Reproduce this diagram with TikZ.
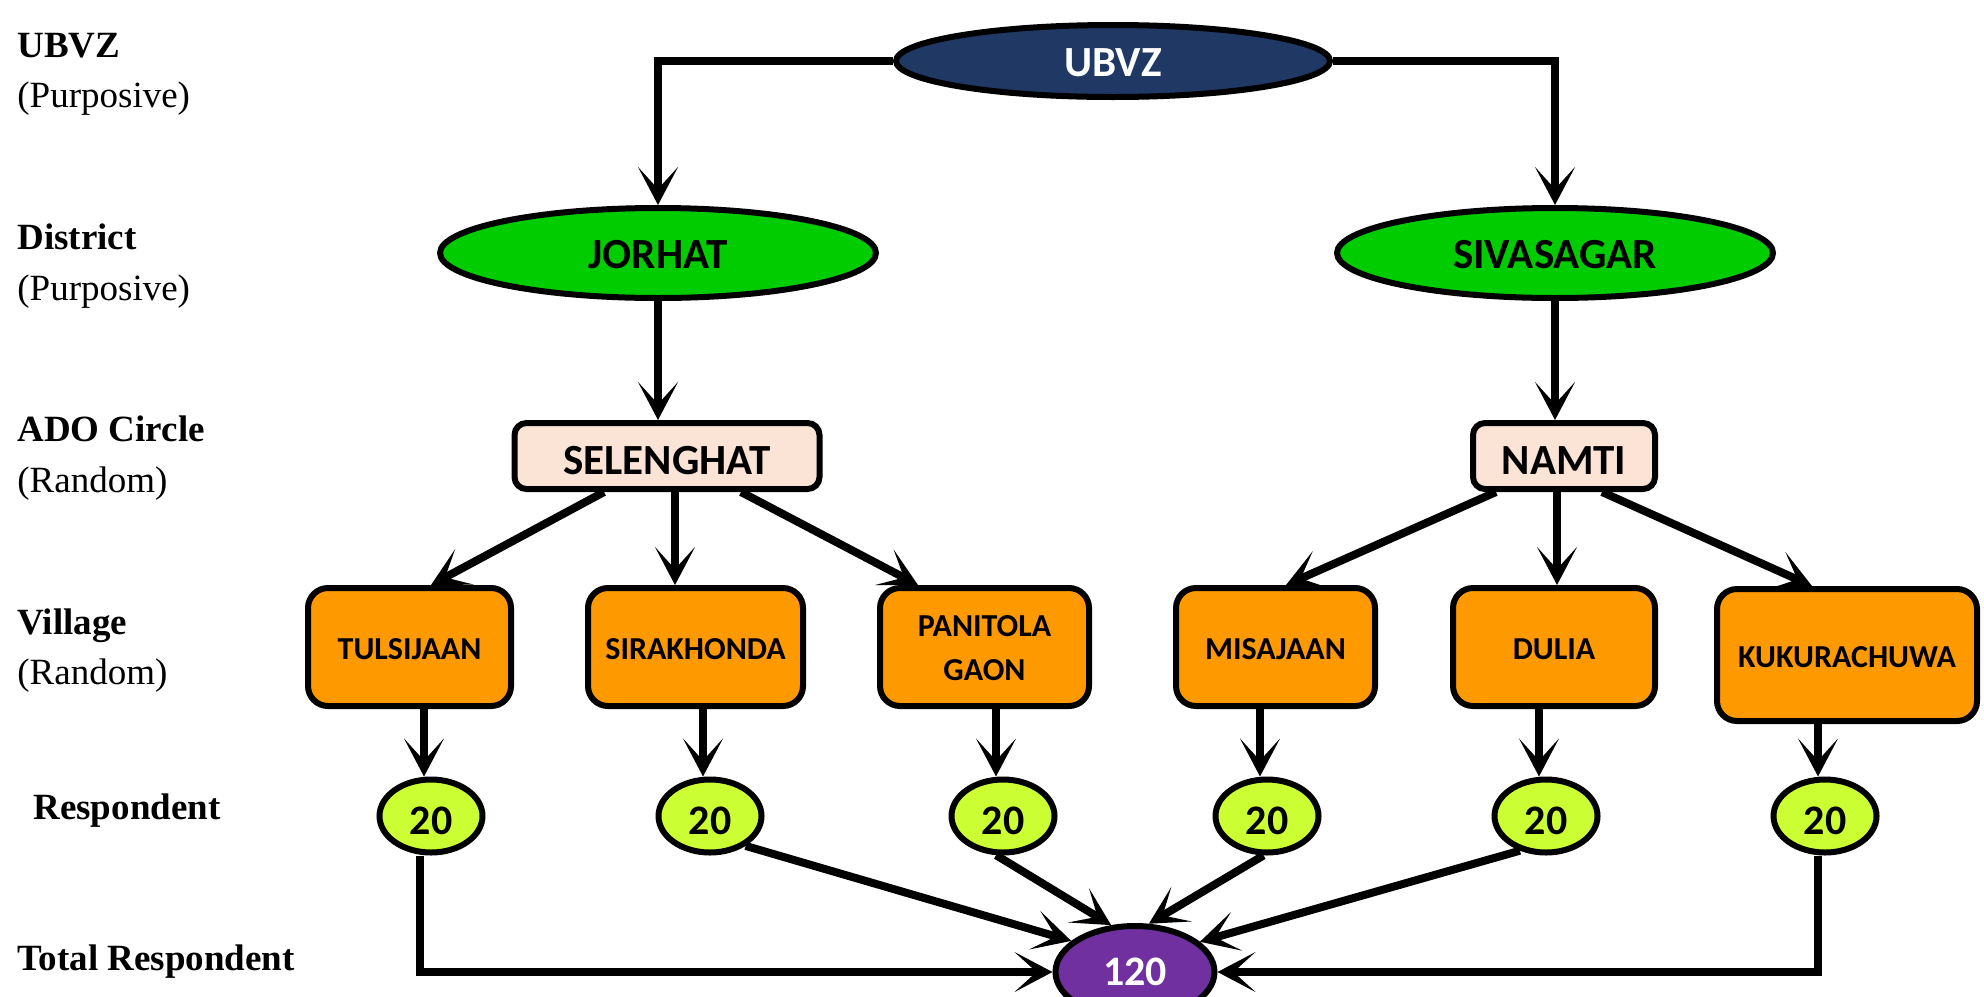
\documentclass[tikz,border=0pt]{standalone}
\usepackage{fontspec}
\setmainfont{Liberation Serif}
\newfontfamily\calfont{Carlito}
\usetikzlibrary{arrows.meta,shapes.geometric}
\definecolor{navy}{HTML}{1F3864}
\definecolor{grn}{HTML}{00CC00}
\definecolor{peach}{HTML}{FBE4D5}
\definecolor{orng}{HTML}{FF9900}
\definecolor{lime}{HTML}{CCFF33}
\definecolor{purp}{HTML}{7030A0}
\newcommand\lowertext[2]{\raisebox{-#1}[\height][\depth]{#2}}
\tikzset{
  x=0.5pt, y=-0.5pt,
  box/.style={draw=black, line width=3pt, inner sep=0pt, align=center},
  bigfont/.style={font=\calfont\bfseries\fontsize{21.5}{25}\selectfont},
  numfont/.style={font=\calfont\bfseries\fontsize{21}{24}\selectfont},
  vilfont/.style={font=\calfont\bfseries\fontsize{16}{22}\selectfont},
  ellbox/.style={box, ellipse},
  topnode/.style={ellbox, bigfont, fill=navy, text=white, minimum width=217pt, minimum height=36pt},
  distnode/.style={ellbox, bigfont, fill=grn, minimum width=218pt, minimum height=45pt},
  adonode/.style={box, bigfont, rectangle, rounded corners=6pt, fill=peach, minimum height=33pt},
  vilnode/.style={box, vilfont, rectangle, rounded corners=10pt, fill=orng, minimum height=59pt},
  respnode/.style={ellbox, numfont, fill=lime, minimum width=51.5pt, minimum height=36.5pt},
  totnode/.style={ellbox, numfont, fill=purp, text=white, minimum width=79.5pt, minimum height=46pt},
  labbold/.style={anchor=base west, inner sep=0pt, font=\bfseries\fontsize{18.5}{22}\selectfont},
  labreg/.style={anchor=base west, inner sep=0pt, font=\fontsize{18.5}{22}\selectfont},
  arr/.style={line width=4pt, -{Stealth[length=19pt,width=20pt,inset=11pt]}}
}
\begin{document}
\begin{tikzpicture}
\useasboundingbox (0,0) rectangle (1984,996);

% left labels
\node[labbold] (l1) at (17,57) {UBVZ};
\node[labreg]  (l1b) at (17,107) {(Purposive)};
\node[labbold] (l2) at (17,249) {District};
\node[labreg]  (l2b) at (17,300) {(Purposive)};
\node[labbold] (l3) at (17,441) {ADO Circle};
\node[labreg]  (l3b) at (17,492) {(Random)};
\node[labbold] (l4) at (17,634) {Village};
\node[labreg]  (l4b) at (17,684) {(Random)};
\node[labbold] (l5) at (33,819) {Respondent};
\node[labbold] (l6) at (17,970) {Total Respondent};

% nodes
\node[topnode] (ubvz) at (1113,61) {\lowertext{1pt}{UBVZ}};
\node[distnode] (jorhat) at (658,253) {\lowertext{1pt}{JORHAT}};
\node[distnode] (siva) at (1555,253) {\lowertext{1pt}{SIVASAGAR}};
\node[adonode, minimum width=152.5pt] (selenghat) at (667,456) {\lowertext{2.5pt}{SELENGHAT}};
\node[adonode, minimum width=91pt] (namti) at (1564,456) {\lowertext{2.5pt}{NAMTI}};

\node[vilnode, minimum width=101.5pt] (tuls) at (409.5,647) {\lowertext{1.3pt}{TULSIJAAN}};
\node[vilnode, minimum width=107.5pt] (sira) at (695.5,647) {\lowertext{1.3pt}{SIRAKHONDA}};
\node[vilnode, minimum width=104.5pt] (pani) at (984.5,647) {\lowertext{1.5pt}{\begin{tabular}{@{}c@{}}PANITOLA\\GAON\end{tabular}}};
\node[vilnode, minimum width=99.5pt] (misa) at (1275.5,647) {\lowertext{1.3pt}{MISAJAAN}};
\node[vilnode, minimum width=101pt] (dulia) at (1554,647) {\lowertext{1.3pt}{DULIA}};
\node[vilnode, minimum width=130pt, minimum height=66pt] (kuku) at (1847,655) {\lowertext{1.3pt}{KUKURACHUWA}};

\node[respnode] (r1) at (431,816) {\lowertext{2.5pt}{20}};
\node[respnode] (r2) at (710,816) {\lowertext{2.5pt}{20}};
\node[respnode] (r3) at (1003,816) {\lowertext{2.5pt}{20}};
\node[respnode] (r4) at (1267,816) {\lowertext{2.5pt}{20}};
\node[respnode] (r5) at (1546,816) {\lowertext{2.5pt}{20}};
\node[respnode] (r6) at (1825,816) {\lowertext{2.5pt}{20}};

\node[totnode] (total) at (1135,972) {120};

% connectors
\draw[arr] (ubvz.west) -| (jorhat.north);
\draw[arr] (ubvz.east) -| (siva.north);
\draw[arr] (jorhat.south) -- (jorhat.south |- selenghat.north);
\draw[arr] (siva.south) -- (siva.south |- namti.north);

\draw[arr] ([xshift=-31.5pt]selenghat.south) -- ([xshift=10.75pt]tuls.north);
\draw[arr] ([xshift=4pt]selenghat.south) -- ([xshift=4pt]selenghat.south |- sira.north);
\draw[arr] ([xshift=37pt]selenghat.south) -- ([xshift=-33.25pt]pani.north);
\draw[arr] ([xshift=-34pt]namti.south) -- ([xshift=5.25pt]misa.north);
\draw[arr] ([xshift=-3.5pt]namti.south) -- ([xshift=-3.5pt]namti.south |- dulia.north);
\draw[arr] ([xshift=19pt]namti.south) -- ([xshift=-17.5pt]kuku.north);

\draw[arr] ([xshift=-3.5pt]r1.north |- tuls.south) -- ([xshift=-3.5pt]r1.north);
\draw[arr] ([xshift=-3.5pt]r2.north |- sira.south) -- ([xshift=-3.5pt]r2.north);
\draw[arr] ([xshift=-3.5pt]r3.north |- pani.south) -- ([xshift=-3.5pt]r3.north);
\draw[arr] ([xshift=-3.5pt]r4.north |- misa.south) -- ([xshift=-3.5pt]r4.north);
\draw[arr] ([xshift=-3.5pt]r5.north |- dulia.south) -- ([xshift=-3.5pt]r5.north);
\draw[arr] ([xshift=-3.5pt]r6.north |- kuku.south) -- ([xshift=-3.5pt]r6.north);

\draw[arr] ([xshift=-5.5pt]r1.south) |- (total.west);
\draw[arr] (r2.-40) -- (total.154);
\draw[arr] (r3.-100) -- (total.117);
\draw[arr] (r4.-95) -- (total.74);
\draw[arr] (r5.-127) -- (total.25);
\draw[arr] ([xshift=-3.5pt]r6.south) |- (total.east);
\end{tikzpicture}
\end{document}
